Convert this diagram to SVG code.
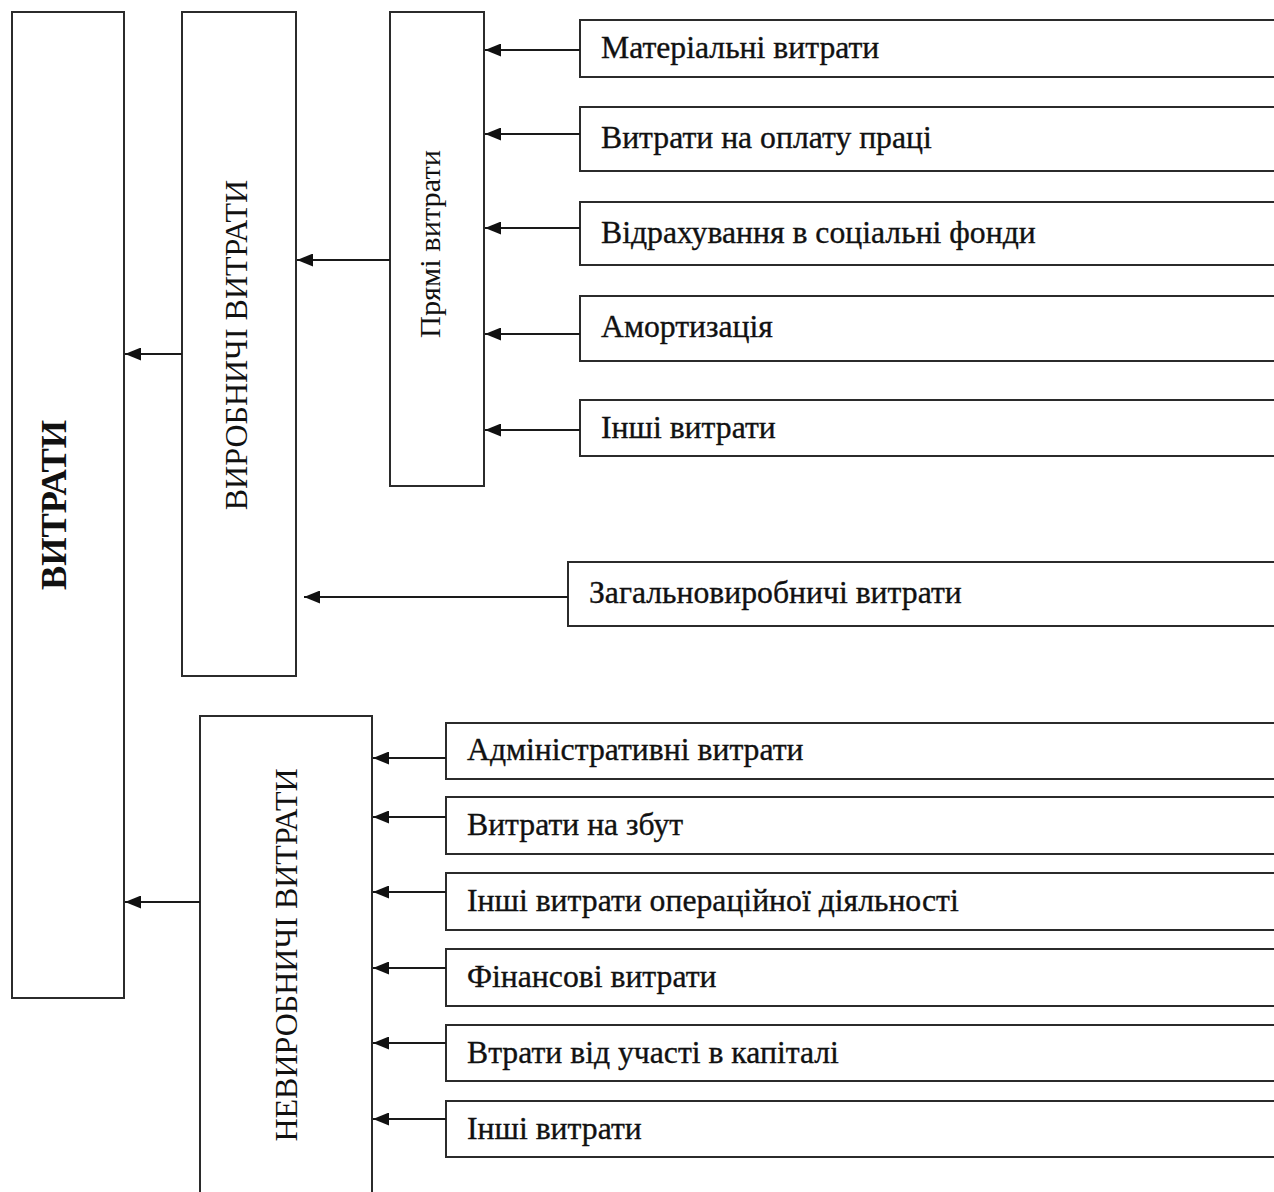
<svg xmlns="http://www.w3.org/2000/svg" width="1274" height="1192" viewBox="0 0 1274 1192">
<style>
.box{fill:#fff;stroke:#2b2b2b;stroke-width:2}
.lbl{font-family:"Liberation Serif","Times New Roman",serif;font-size:31.7px;fill:#111;stroke:#111;stroke-width:0.35}
.vl{font-family:"Liberation Serif","Times New Roman",serif;font-size:32px;fill:#111;text-anchor:middle}
.conn line{stroke:#1a1a1a;stroke-width:2;marker-end:url(#ah)}
</style>
<defs>
<marker id="ah" viewBox="0 0 16 13" refX="16" refY="6.5" markerWidth="16" markerHeight="13" markerUnits="userSpaceOnUse" orient="auto">
<path d="M0,0 L16,6.5 L0,13 z" fill="#111"/>
</marker>
</defs>
<rect width="1274" height="1192" fill="#fff"/>

<g id="vytraty"><rect class="box" x="12" y="12" width="112" height="986"/>
<text class="vl" x="66" y="505" style="font-weight:bold;font-size:36.4px" transform="rotate(-90 66 505)">ВИТРАТИ</text></g>

<g id="vyrobnychi"><rect class="box" x="182" y="12" width="114" height="664"/>
<text class="vl" x="247" y="345" transform="rotate(-90 247 345)">ВИРОБНИЧІ ВИТРАТИ</text></g>

<g id="pryami"><rect class="box" x="390" y="12" width="94" height="474"/>
<text class="vl" x="440" y="244" style="font-size:30.4px" transform="rotate(-90 440 244)">Прямі витрати</text></g>

<g id="nevyrobnychi"><rect class="box" x="200" y="716" width="172" height="490"/>
<text class="vl" x="297" y="955" transform="rotate(-90 297 955)">НЕВИРОБНИЧІ ВИТРАТИ</text></g>

<g id="material"><rect class="box" x="580" y="20" width="710" height="57"/><text class="lbl" x="601" y="58">Матеріальні витрати</text></g>
<g id="oplata"><rect class="box" x="580" y="107" width="710" height="64"/><text class="lbl" x="601" y="148">Витрати на оплату праці</text></g>
<g id="vidrakh"><rect class="box" x="580" y="202" width="710" height="63"/><text class="lbl" x="601" y="243">Відрахування в соціальні фонди</text></g>
<g id="amort"><rect class="box" x="580" y="296" width="710" height="65"/><text class="lbl" x="601" y="337">Амортизація</text></g>
<g id="inshi1"><rect class="box" x="580" y="400" width="710" height="56"/><text class="lbl" x="601" y="438">Інші витрати</text></g>

<g id="zagalno"><rect class="box" x="568" y="562" width="722" height="64"/><text class="lbl" x="589" y="603">Загальновиробничі витрати</text></g>

<g id="admin"><rect class="box" x="446" y="723" width="844" height="56"/><text class="lbl" x="467" y="760">Адміністративні витрати</text></g>
<g id="zbut"><rect class="box" x="446" y="797" width="844" height="57"/><text class="lbl" x="467" y="835">Витрати на збут</text></g>
<g id="operac"><rect class="box" x="446" y="873" width="844" height="57"/><text class="lbl" x="467" y="911">Інші витрати операційної діяльності</text></g>
<g id="finans"><rect class="box" x="446" y="949" width="844" height="57"/><text class="lbl" x="467" y="987">Фінансові витрати</text></g>
<g id="uchast"><rect class="box" x="446" y="1025" width="844" height="56"/><text class="lbl" x="467" y="1063">Втрати від участі в капіталі</text></g>
<g id="inshi2"><rect class="box" x="446" y="1101" width="844" height="56"/><text class="lbl" x="467" y="1139">Інші витрати</text></g>

<g id="connectors" class="conn">
<line x1="580" y1="50" x2="485" y2="50"/>
<line x1="580" y1="134" x2="485" y2="134"/>
<line x1="580" y1="228" x2="485" y2="228"/>
<line x1="580" y1="334" x2="485" y2="334"/>
<line x1="580" y1="430" x2="485" y2="430"/>
<line x1="390" y1="260" x2="297" y2="260"/>
<line x1="182" y1="354" x2="125" y2="354"/>
<line x1="568" y1="597" x2="304" y2="597"/>
<line x1="200" y1="902" x2="125" y2="902"/>
<line x1="446" y1="758" x2="373" y2="758"/>
<line x1="446" y1="817" x2="373" y2="817"/>
<line x1="446" y1="892" x2="373" y2="892"/>
<line x1="446" y1="968" x2="373" y2="968"/>
<line x1="446" y1="1043" x2="373" y2="1043"/>
<line x1="446" y1="1119" x2="373" y2="1119"/>
</g>
</svg>
